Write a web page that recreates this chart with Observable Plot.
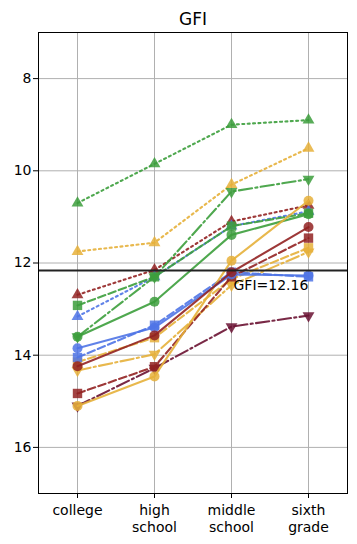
<!DOCTYPE html>
<html><head><meta charset="utf-8">
<script src="https://cdn.jsdelivr.net/npm/d3@7"></script>
<script src="https://cdn.jsdelivr.net/npm/@observablehq/plot@0.6"></script>
<style>body{margin:0;background:#fff;} svg{display:block}</style>
</head><body><div id="chart"></div>
<script>
const categories = ["college", "high school", "middle school", "sixth grade"];
const tickLabels = ["college", "high\nschool", "middle\nschool", "sixth\ngrade"];
const yTicks = [8, 10, 12, 14, 16];
const referenceValue = 12.16;
const titleText = "GFI";

const greenTriangle = [10.7, 9.85, 9.0, 8.9];
const greenSquare   = [12.92, 12.3, 11.2, 10.92];
const greenCircle   = [13.6, 12.84, 11.39, 10.94];
const greenDown     = [13.6, 12.3, 10.45, 10.18];
const goldTriangle  = [11.75, 11.56, 10.3, 9.51];
const goldCircle    = [15.1, 14.46, 11.95, 10.65];
const goldSquare    = [14.15, 13.62, 12.35, 11.67];
const goldDown      = [14.33, 13.98, 12.48, 11.76];
const blueTriangle  = [13.16, 12.3, 11.2, 10.88];
const blueCircle    = [13.85, 13.4, 12.25, 12.27];
const blueSquare    = [14.05, 13.35, 12.2, 12.3];
const redTriangle   = [12.69, 12.15, 11.1, 10.75];
const redCircle     = [14.24, 13.57, 12.2, 11.22];
const redSquare     = [14.83, 14.25, 12.3, 11.46];
const maroonDown    = [15.1, 14.28, 13.38, 13.14];

const GREEN = "#3c9e3c", GOLD = "#e6b03a", BLUE = "#4f74e6", RED = "#922222", MAROON = "#6a1232";
const DOT = "2,3.4", DASH = "7.7,3.3", DASHDOT = "13.3,3.3,2.1,3.3";

const series = [
  {v: greenTriangle, c: GREEN, s: "triangle", d: DOT},
  {v: goldTriangle, c: GOLD, s: "triangle", d: DOT},
  {v: redTriangle, c: RED, s: "triangle", d: DOT},
  {v: blueTriangle, c: BLUE, s: "triangle", d: DOT},
  {v: greenDown, c: GREEN, s: "down", d: DASHDOT},
  {v: goldDown, c: GOLD, s: "down", d: DASHDOT},
  {v: maroonDown, c: MAROON, s: "down", d: DASHDOT},
  {v: greenSquare, c: GREEN, s: "square", d: DASH},
  {v: goldSquare, c: GOLD, s: "square", d: DASH},
  {v: blueSquare, c: BLUE, s: "square", d: DASH},
  {v: redSquare, c: RED, s: "square", d: DASH},
  {v: greenCircle, c: GREEN, s: "circle", d: null},
  {v: goldCircle, c: GOLD, s: "circle", d: null},
  {v: blueCircle, c: BLUE, s: "circle", d: null},
  {v: redCircle, c: RED, s: "circle", d: null}
];

const seriesMarks = series.flatMap(s => {
  const rows = categories.map((c, j) => ({x: c, y: s.v[j]}));
  const sym = s.s === "down" ? "triangle" : s.s;
  const r = s.s === "circle" ? 5 : s.s === "square" ? 5.3 : 4.4;
  return [
    Plot.line(rows, {x: "x", y: "y", stroke: s.c, strokeWidth: 2.1, strokeOpacity: 0.9,
      strokeDasharray: s.d || undefined}),
    Plot.dot(rows, {x: "x", y: "y", symbol: sym, r, fill: s.c, fillOpacity: 0.85,
      stroke: "none", rotate: s.s === "down" ? 180 : 0})
  ];
});

const chart = Plot.plot({
  width: 357,
  height: 544,
  marginLeft: 38,
  marginRight: 10,
  marginTop: 32,
  marginBottom: 51,
  style: {fontFamily: "DejaVu Sans", fontSize: "14px", color: "black", background: "white"},
  x: {type: "point", domain: categories, padding: 0.5},
  y: {domain: [7, 17], reverse: true},
  marks: [
    Plot.gridX({stroke: "#b0b0b0", strokeOpacity: 1, strokeWidth: 1}),
    Plot.gridY(yTicks, {stroke: "#b0b0b0", strokeOpacity: 1, strokeWidth: 1}),
    ...seriesMarks,
    Plot.ruleY([referenceValue], {stroke: "#222", strokeWidth: 2}),
    Plot.text([referenceValue], {x: () => categories[2], y: d => d, text: d => `GFI=${d}`,
      textAnchor: "start", dx: 2, dy: 15, fontSize: 14, fill: "black"}),
    Plot.axisY(yTicks, {tickSize: 5, tickPadding: 2, label: null, fontSize: 14}),
    Plot.axisX({tickFormat: d => tickLabels[categories.indexOf(d)], tickSize: 5, tickPadding: 5,
      label: null, fontSize: 14, lineHeight: 1.2}),
    Plot.frame({stroke: "black"}),
    Plot.text([titleText], {frameAnchor: "top", text: d => d, dy: -20, fontSize: 17, fill: "black"})
  ]
});
document.getElementById("chart").appendChild(chart);
</script>
</body></html>
